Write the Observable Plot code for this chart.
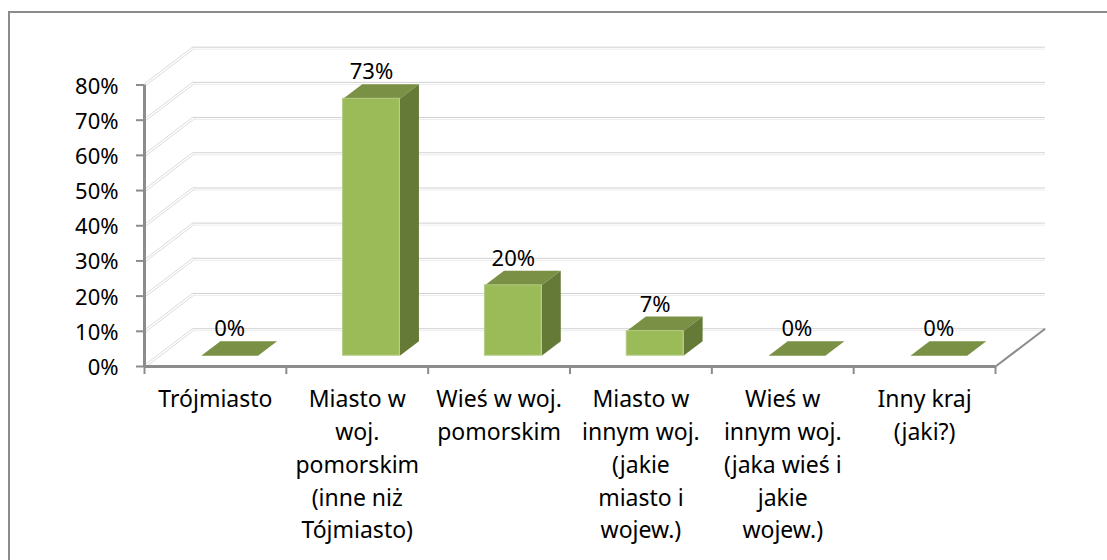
<!DOCTYPE html>
<html><head><meta charset="utf-8">
<script src="https://cdn.jsdelivr.net/npm/d3@7"></script>
<script src="https://cdn.jsdelivr.net/npm/@observablehq/plot@0.6"></script>
<style>
html,body{margin:0;padding:0;background:#fff;width:1107px;height:560px;overflow:hidden}
#chart{position:absolute;left:0;top:0}
#border{position:absolute;left:8px;top:11px;right:0;bottom:0;border-left:2px solid #8c8c8c;border-top:2px solid #8c8c8c;z-index:2;pointer-events:none}
</style></head>
<body>
<div id="border"></div>
<div id="chart"></div>
<script>
const categories = ["Trójmiasto","Miasto w\nwoj.\npomorskim\n(inne niż\nTójmiasto)","Wieś w woj.\npomorskim","Miasto w\ninnym woj.\n(jakie\nmiasto i\nwojew.)","Wieś w\ninnym woj.\n(jaka wieś i\njakie\nwojew.)","Inny kraj\n(jaki?)"];
const values = [0, 73, 20, 7, 0, 0];
const valueLabels = ["0%","73%","20%","7%","0%","0%"];
const yTicks = [0,10,20,30,40,50,60,70,80];

// oblique projection of the 3D chart, expressed in data units
const depthX = 0.3455, depthY = 10.6;
const barStart = 0.3, barWidth = 0.4, zFront = 0.29, zBack = 0.68;
const px = (i, z) => i + z * depthX;
const py = (v, z) => v + z * depthY;

const rows = categories.map((c, i) => ({i, v: values[i], label: valueLabels[i]}));
const poly = (id, pts) => pts.map(([x, y]) => ({id, x, y}));

const wallDiag = yTicks.flatMap(v => poly(v, [[0, v], [px(0,1), py(v,1)]]));
const wallGrid = yTicks.flatMap(v => poly(v, [[px(0,1), py(v,1)], [px(6,1), py(v,1)]]));

const fronts = rows.filter(d => d.v > 0).map(d => ({
  x1: px(d.i + barStart, zFront), x2: px(d.i + barStart + barWidth, zFront),
  y1: py(0, zFront), y2: py(d.v, zFront)
}));
const tops = rows.flatMap(d => poly(d.i, [
  [px(d.i + barStart, zFront), py(d.v, zFront)],
  [px(d.i + barStart + barWidth, zFront), py(d.v, zFront)],
  [px(d.i + barStart + barWidth, zBack), py(d.v, zBack)],
  [px(d.i + barStart, zBack), py(d.v, zBack)]
]));
const sides = rows.filter(d => d.v > 0).flatMap(d => poly(d.i, [
  [px(d.i + barStart + barWidth, zFront), py(0, zFront)],
  [px(d.i + barStart + barWidth, zBack), py(0, zBack)],
  [px(d.i + barStart + barWidth, zBack), py(d.v, zBack)],
  [px(d.i + barStart + barWidth, zFront), py(d.v, zFront)]
]));
const floorEdge = poly("edge", [[6, 0], [px(6,1), py(0,1)]]);

const axisColor = "#8c8c8c";
const lineOpts = {x: "x", y: "y", z: "id"};

const plot = Plot.plot({
  width: 1107, height: 560,
  marginLeft: 144, marginRight: 112, marginTop: 84.5, marginBottom: 194,
  x: {domain: [0, 6], label: null},
  y: {domain: [0, 80], label: null},
  style: {fontFamily: "'Noto Sans', sans-serif", fontSize: "22px", color: "#000", background: "transparent", overflow: "visible"},
  marks: [
    Plot.line(wallDiag, {...lineOpts, stroke: "#dcdcdc", strokeWidth: 1, dx: -0.5, dy: -1}),
    Plot.line(wallDiag, {...lineOpts, stroke: "#dcdcdc", strokeWidth: 1, dx: 0.5, dy: 1}),
    Plot.line(wallGrid, {...lineOpts, stroke: "#d2d2d2", strokeWidth: 1, dy: -0.5}),
    Plot.line(wallGrid, {...lineOpts, stroke: "#ececec", strokeWidth: 1, dy: 1.5}),
    Plot.line(tops, {...lineOpts, fill: "#7a9145", stroke: "none"}),
    Plot.line(sides, {...lineOpts, fill: "#657a37", stroke: "none"}),
    Plot.rect(fronts, {x1: "x1", x2: "x2", y1: "y1", y2: "y2", fill: "#9bbb59", stroke: "#b4cb82", strokeWidth: 1}),
    Plot.text(rows, {
      x: d => px(d.i + barStart + barWidth / 2, zFront),
      y: d => py(d.v, zBack),
      text: "label", lineAnchor: "bottom", dy: -5, fill: "#000"
    }),
    Plot.line(floorEdge, {...lineOpts, stroke: axisColor, strokeWidth: 2}),
    Plot.axisY({ticks: yTicks, tickFormat: () => "", tickSize: 8, stroke: axisColor, strokeWidth: 2, label: null}),
    Plot.axisY({ticks: yTicks, tickFormat: d => d + "%", tickSize: 0, tickPadding: 26, dy: 1.5, fill: "#000", label: null}),
    Plot.axisX({ticks: d3.range(7), tickFormat: () => "", tickSize: 8, stroke: axisColor, strokeWidth: 2, label: null}),
    Plot.axisX({ticks: categories.map((c, i) => i + 0.5), tickFormat: d => categories[d - 0.5], tickSize: 0, tickPadding: 17, fontSize: 23, lineHeight: 1.43, fill: "#000", label: null}),
    Plot.ruleX([0], {stroke: axisColor, strokeWidth: 3}),
    Plot.ruleY([0], {stroke: axisColor, strokeWidth: 3})
  ]
});
document.getElementById("chart").appendChild(plot);
</script>
</body></html>
